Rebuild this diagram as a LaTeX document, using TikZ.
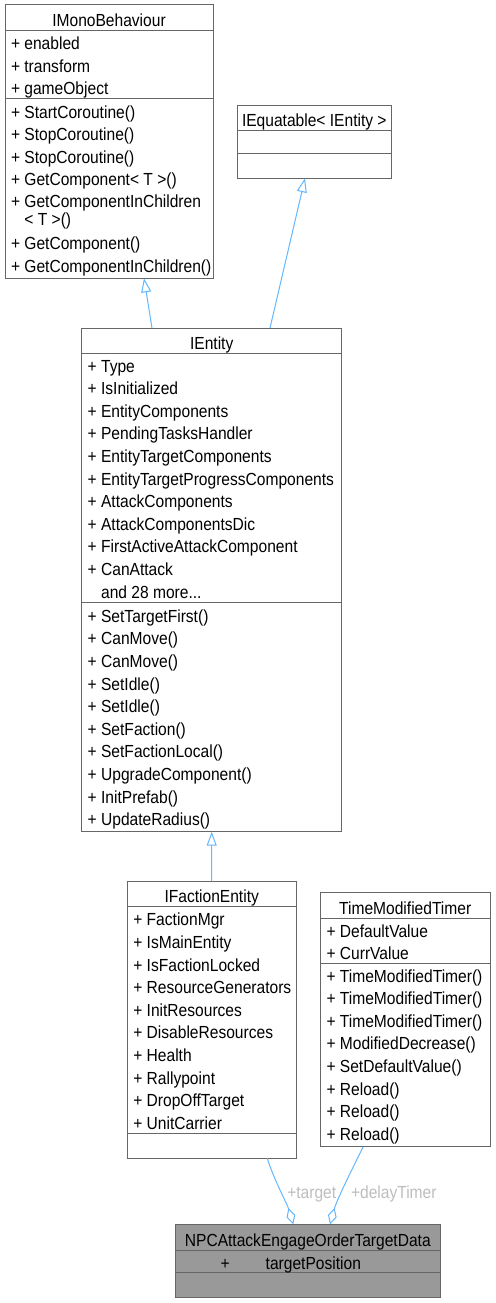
\documentclass[tikz,border=0pt]{standalone}
\usepackage{fontspec}
\setmainfont{Liberation Sans}[FakeStretch=0.89]
\usetikzlibrary{arrows.meta,calc}
\definecolor{edgeblue}{HTML}{63B8FF}
\definecolor{boxline}{HTML}{666666}
\definecolor{lblgray}{HTML}{BEBEBE}
\definecolor{curfill}{HTML}{999999}
\newcommand\umlrows[5]{\foreach \t [count=\i] in {#5}{\node[rowst] (#1\i) at (#2,{#3+(\i-1)*#4}) {\t};}}
\begin{document}
\begin{tikzpicture}[x=1pt,y=-1pt, font=\fontsize{17.5}{20}\selectfont,
  boxst/.style={draw=boxline, line width=1pt, inner sep=0pt, outer sep=0pt, anchor=north west, fill=white},
  divst/.style={draw=boxline, line width=1pt},
  rowst/.style={anchor=base west, inner sep=0pt, outer sep=0pt},
  titlest/.style={anchor=base, inner sep=0pt, outer sep=0pt},
  inh/.style={draw=edgeblue, line width=1pt, -{Triangle[open, length=14pt, width=10pt]}},
  agg/.style={draw=edgeblue, line width=1pt, {Diamond[open, length=17pt, width=9pt]}-},
  lbl/.style={anchor=base west, inner sep=0pt, outer sep=0pt, text=lblgray}]
\fill[white] (0,0) rectangle (495,1303);
\useasboundingbox (0,0) rectangle (495,1303);

% IMonoBehaviour
\node[boxst, minimum width=208pt, minimum height=273.3pt] (imono) at (5,5) {};
\draw[divst] (5,30.7) -- (213,30.7);
\draw[divst] (5,98.7) -- (213,98.7);
\node[titlest] (imonoT) at (109,26.7) {IMonoBehaviour};
\umlrows{imonoA}{11}{50}{22.3}{+ enabled, + transform, + gameObject}
\node[rowst] (imonoM1) at (11,118.3) {+ StartCoroutine()};
\node[rowst] (imonoM2) at (11,140.6) {+ StopCoroutine()};
\node[rowst] (imonoM3) at (11,163) {+ StopCoroutine()};
\node[rowst] (imonoM4) at (11,185.6) {+ GetComponent< T >()};
\node[rowst] (imonoM5) at (11,207.6) {+ GetComponentInChildren};
\node[rowst] (imonoM6) at (11,225.6) {\hphantom{+ }< T >()};
\node[rowst] (imonoM7) at (11,249.6) {+ GetComponent()};
\node[rowst] (imonoM8) at (11,272.3) {+ GetComponentInChildren()};

% IEquatable
\node[boxst, minimum width=153.3pt, minimum height=73pt] (iequat) at (237.7,105.3) {};
\draw[divst] (237.7,131) -- (391,131);
\draw[divst] (237.7,153.7) -- (391,153.7);
\node[titlest] (iequatT) at (314.3,127) {IEquatable< IEntity >};

% IEntity
\node[boxst, minimum width=260pt, minimum height=503.7pt] (ient) at (81.7,328) {};
\draw[divst] (81.7,353.3) -- (341.7,353.3);
\draw[divst] (81.7,602.7) -- (341.7,602.7);
\node[titlest] (ientT) at (211.7,349.3) {IEntity};
\umlrows{ientA}{87.7}{372}{22.6}{+ Type, + IsInitialized, + EntityComponents, + PendingTasksHandler, + EntityTargetComponents, + EntityTargetProgressComponents, + AttackComponents, + AttackComponentsDic, + FirstActiveAttackComponent, + CanAttack}
\node[rowst] (ientMore) at (87.7,598) {\hphantom{+ }and 28 more...};
\umlrows{ientM}{87.7}{622.3}{22.6}{+ SetTargetFirst(), + CanMove(), + CanMove(), + SetIdle(), + SetIdle(), + SetFaction(), + SetFactionLocal(), + UpgradeComponent(), + InitPrefab(), + UpdateRadius()}

% IFactionEntity
\node[boxst, minimum width=168.7pt, minimum height=277.3pt] (ifac) at (127.3,881) {};
\draw[divst] (127.3,906.7) -- (296,906.7);
\draw[divst] (127.3,1133.3) -- (296,1133.3);
\node[titlest] (ifacT) at (211.7,902.7) {IFactionEntity};
\umlrows{ifacA}{133.3}{925.8}{22.6}{+ FactionMgr, + IsMainEntity, + IsFactionLocked, + ResourceGenerators, + InitResources, + DisableResources, + Health, + Rallypoint, + DropOffTarget, + UnitCarrier}

% TimeModifiedTimer
\node[boxst, minimum width=169.7pt, minimum height=254pt] (tmt) at (320.3,892.7) {};
\draw[divst] (320.3,918.3) -- (490,918.3);
\draw[divst] (320.3,963.3) -- (490,963.3);
\node[titlest] (tmtT) at (405.2,914.3) {TimeModifiedTimer};
\umlrows{tmtA}{326.5}{937}{22.6}{+ DefaultValue, + CurrValue}
\umlrows{tmtM}{326.5}{982}{22.6}{+ TimeModifiedTimer(), + TimeModifiedTimer(), + TimeModifiedTimer(), + ModifiedDecrease(), + SetDefaultValue(), + Reload(), + Reload(), + Reload()}

% NPCAttackEngageOrderTargetData
\node[boxst, fill=curfill, minimum width=265.7pt, minimum height=73.4pt] (npc) at (175,1224.3) {};
\draw[divst] (175,1250) -- (440.7,1250);
\draw[divst] (175,1272.7) -- (440.7,1272.7);
\node[titlest] (npcT) at (307.8,1246) {NPCAttackEngageOrderTargetData};
\node[rowst] (npcP) at (220.7,1269) {+};
\node[rowst] (npcA) at (265.7,1269) {targetPosition};

% inheritance
\draw[inh] ([xshift=70.3pt]ient.north west) -- ([xshift=139pt]imono.south west);
\draw[inh] ([xshift=188.3pt]ient.north west) -- ([xshift=67.3pt]iequat.south west);
\draw[inh] (ifac.north) -- (ient.south);

% aggregation
\draw[agg] ([xshift=118.3pt]npc.north west) .. controls +(-6,-20) and +(6,20) .. ([xshift=140pt]ifac.south west);
\draw[agg] ([xshift=155pt]npc.north west) .. controls +(7,-25) and +(-12,24) .. ([xshift=43pt]tmt.south west);
\node[lbl] (lt) at (287.3,1198) {+target};
\node[lbl] (ld) at (351,1198.5) {+delayTimer};
\end{tikzpicture}
\end{document}
